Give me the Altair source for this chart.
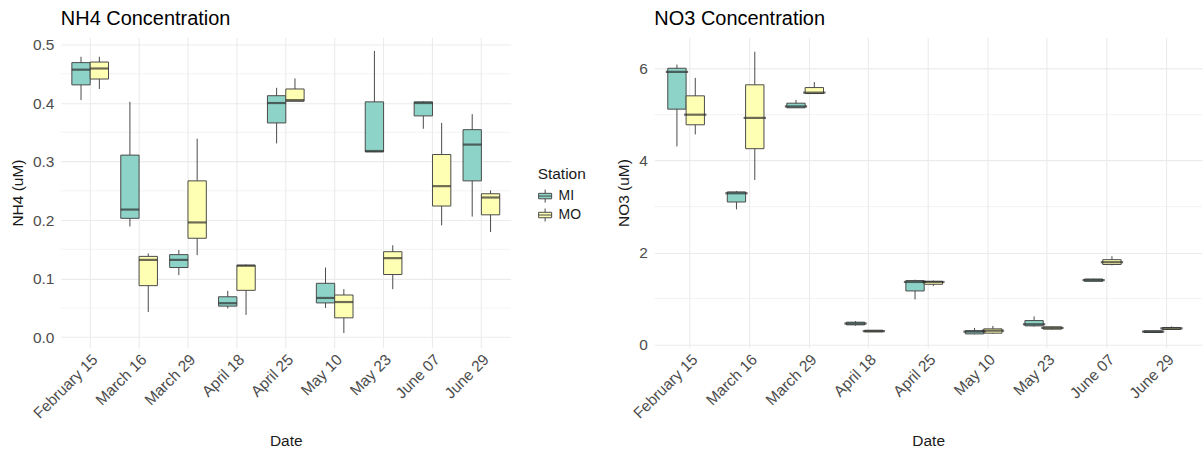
import altair as alt
import pandas as pd

dates = ["February 15", "March 16", "March 29", "April 18", "April 25",
         "May 10", "May 23", "June 07", "June 29"]
stations = ["MI", "MO"]
station_colors = ["#8DD3C7", "#FFFFB3"]

# NH4 (uM) box statistics per sampling date
nh4_mi_low = [0.405, 0.189, 0.106, 0.049, 0.331, 0.050, 0.316, 0.356, 0.206]
nh4_mi_q1 = [0.431, 0.203, 0.119, 0.053, 0.366, 0.0585, 0.3165, 0.378, 0.267]
nh4_mi_med = [0.457, 0.218, 0.132, 0.058, 0.400, 0.067, 0.318, 0.400, 0.329]
nh4_mi_q3 = [0.469, 0.311, 0.141, 0.069, 0.4125, 0.092, 0.402, 0.402, 0.3545]
nh4_mi_high = [0.479, 0.402, 0.149, 0.079, 0.426, 0.119, 0.489, 0.403, 0.381]

nh4_mo_low = [0.424, 0.043, 0.140, 0.038, 0.403, 0.007, 0.082, 0.191, 0.1795]
nh4_mo_q1 = [0.441, 0.088, 0.169, 0.080, 0.403, 0.033, 0.107, 0.224, 0.209]
nh4_mo_med = [0.459, 0.132, 0.196, 0.122, 0.405, 0.060, 0.135, 0.258, 0.2386]
nh4_mo_q3 = [0.470, 0.138, 0.267, 0.123, 0.424, 0.072, 0.146, 0.312, 0.245]
nh4_mo_high = [0.479, 0.143, 0.339, 0.124, 0.442, 0.082, 0.157, 0.366, 0.2506]

# NO3 (uM) box statistics per sampling date
no3_mi_low = [4.31, 2.94, 5.15, 0.41, 0.98, 0.22, 0.39, 1.37, 0.253]
no3_mi_q1 = [5.12, 3.10, 5.15, 0.427, 1.165, 0.23, 0.405, 1.375, 0.26]
no3_mi_med = [5.93, 3.29, 5.18, 0.456, 1.36, 0.28, 0.44, 1.40, 0.28]
no3_mi_q3 = [6.01, 3.32, 5.25, 0.485, 1.39, 0.30, 0.52, 1.425, 0.297]
no3_mi_high = [6.09, 3.34, 5.32, 0.51, 1.41, 0.36, 0.61, 1.43, 0.30]

no3_mo_low = [4.57, 3.58, 5.46, 0.27, 1.27, 0.23, 0.32, 1.72, 0.32]
no3_mo_q1 = [4.78, 4.26, 5.46, 0.275, 1.31, 0.246, 0.333, 1.74, 0.326]
no3_mo_med = [5.00, 4.93, 5.48, 0.29, 1.36, 0.30, 0.36, 1.79, 0.35]
no3_mo_q3 = [5.41, 5.65, 5.59, 0.31, 1.375, 0.34, 0.384, 1.845, 0.37]
no3_mo_high = [5.80, 6.37, 5.71, 0.31, 1.39, 0.405, 0.39, 1.92, 0.39]

nh4_ticks = [0.0, 0.1, 0.2, 0.3, 0.4, 0.5]
nh4_minor = [0.05, 0.15, 0.25, 0.35, 0.45]
no3_ticks = [0, 2, 4, 6]
no3_minor = [1, 3, 5]


def long_table(mi, mo):
    rows = []
    for st, stats in (("MI", mi), ("MO", mo)):
        lo, q1, med, q3, hi = stats
        for i, d in enumerate(dates):
            rows.append({"Date": d, "Station": st, "low": lo[i], "q1": q1[i],
                         "med": med[i], "q3": q3[i], "high": hi[i]})
    return pd.DataFrame(rows)


nh4 = long_table((nh4_mi_low, nh4_mi_q1, nh4_mi_med, nh4_mi_q3, nh4_mi_high),
                 (nh4_mo_low, nh4_mo_q1, nh4_mo_med, nh4_mo_q3, nh4_mo_high))
no3 = long_table((no3_mi_low, no3_mi_q1, no3_mi_med, no3_mi_q3, no3_mi_high),
                 (no3_mo_low, no3_mo_q1, no3_mo_med, no3_mo_q3, no3_mo_high))

GRID = "#EBEBEB"
EDGE = "#4A4A4A"
FONT = "Liberation Sans"

# boxplot key glyph: box, median line and whiskers
KEY_PATH = ("M-1,-0.42H1V0.42H-1Z M-1,0H1 M0,-1V-0.42 M0,0.42V1")


def panel(df, title, ytitle, domain, ticks, minor, width, height, legend):
    step = width / 9.2
    sub = step * 0.375
    x = alt.X("Date:N", sort=dates, title="Date",
              scale=alt.Scale(paddingInner=0.25, paddingOuter=0.225),
              axis=alt.Axis(labelAngle=-45, labelAlign="right", labelBaseline="top",
                            labelPadding=4, labelFontSize=15.5, labelColor="#4D4D4D",
                            titleFontSize=15.5, titleColor="#1A1A1A", titlePadding=12,
                            titleFontWeight="normal",
                            grid=True, gridColor=GRID, gridWidth=1.1, ticks=False,
                            domain=False, bandPosition=0.5, labelFont=FONT, titleFont=FONT))
    xo = alt.XOffset("Station:N", sort=stations, scale=alt.Scale(paddingInner=0, paddingOuter=0))
    yscale = alt.Scale(domain=domain, nice=False, zero=False)
    y_axis = alt.Axis(values=ticks, grid=True, gridColor=GRID, gridWidth=1.1, ticks=False,
                      domain=False, labelFontSize=15.5, labelColor="#4D4D4D", labelPadding=7,
                      titleFontSize=15.5, titleColor="#1A1A1A", titlePadding=7,
                      titleFontWeight="normal", labelFont=FONT, titleFont=FONT)

    minor_df = pd.DataFrame({"v": minor})
    minor_rules = alt.Chart(minor_df).mark_rule(color=GRID, strokeWidth=0.6).encode(
        y=alt.Y("v:Q", scale=yscale, axis=y_axis, title=ytitle))

    base = alt.Chart(df)
    whisk = base.mark_rule(color=EDGE, strokeWidth=1).encode(
        x=x, xOffset=xo,
        y=alt.Y("low:Q", scale=yscale, axis=y_axis, title=ytitle), y2="high:Q")

    if legend:
        leg = alt.Legend(title="Station", orient="none", legendX=width + 27, legendY=130,
                         symbolType=KEY_PATH, symbolSize=170, symbolStrokeColor=EDGE,
                         symbolStrokeWidth=1, titleFontSize=15.5, titleFontWeight="normal",
                         titleColor="#1A1A1A", labelFontSize=14, labelColor="#1A1A1A",
                         rowPadding=0, titlePadding=6, labelOffset=6,
                         titleFont=FONT, labelFont=FONT)
    else:
        leg = None
    boxes = base.mark_bar(stroke=EDGE, strokeWidth=1).encode(
        x=x, xOffset=xo,
        y=alt.Y("q1:Q", scale=yscale, axis=y_axis, title=ytitle), y2="q3:Q",
        fill=alt.Fill("Station:N", sort=stations,
                      scale=alt.Scale(domain=stations, range=station_colors),
                      legend=leg))
    medians = base.mark_tick(color="#2E2E2E", thickness=2.2, size=sub).encode(
        x=x, xOffset=xo,
        y=alt.Y("med:Q", scale=yscale, axis=y_axis, title=ytitle))

    return alt.layer(minor_rules, whisk, boxes, medians).properties(
        width=width, height=height,
        view=alt.ViewBackground(stroke="transparent", strokeWidth=0),
        title=alt.Title(title, anchor="start", frame="group", fontSize=20,
                        fontWeight="normal", color="#000000", font=FONT, offset=8))


left = panel(nh4, "NH4 Concentration", "NH4 (uM)", [-0.018, 0.512],
             nh4_ticks, nh4_minor, 451, 311, True)
right = panel(no3, "NO3 Concentration", "NO3 (uM)", [-0.07, 6.68],
              no3_ticks, no3_minor, 549, 311, False)

chart = (alt.hconcat(left, right, spacing=30)
         .resolve_scale(fill="independent")
         .resolve_legend(fill="independent")
         .configure_view(strokeWidth=0, stroke="transparent")
         .configure(font=FONT, style={"cell": {"stroke": "transparent", "strokeWidth": 0}})
         .properties(padding={"left": 10, "top": 9, "right": 0, "bottom": 0},
                     background="white"))

chart.save("out.html", embed_options={"renderer": "svg", "actions": False})
